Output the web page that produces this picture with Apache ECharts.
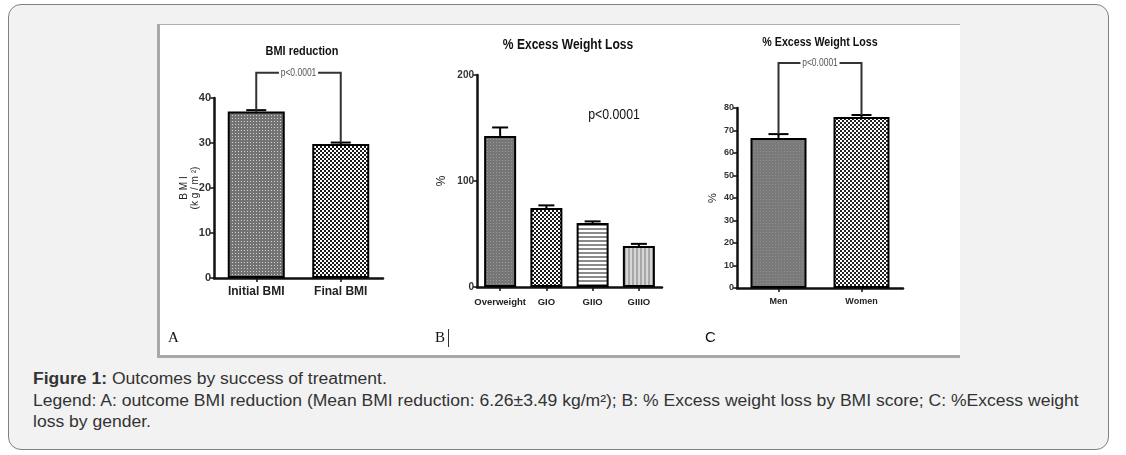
<!DOCTYPE html>
<html>
<head>
<meta charset="utf-8">
<script src="https://cdn.jsdelivr.net/npm/echarts@6/dist/echarts.min.js"></script>
<style>
  html, body { margin: 0; padding: 0; background: #ffffff; }
  body { width: 1126px; height: 455px; position: relative; overflow: hidden; }
  .frame { position: absolute; left: 8px; top: 4px; width: 1101px; height: 446px; box-sizing: border-box;
           border: 1px solid #808080; border-radius: 13px; background: #f2f2f2; }
  .white { position: absolute; left: 157px; top: 24px; width: 803px; height: 334px; box-sizing: border-box;
           background: #ffffff; border-left: 3px solid #a8a8a8; border-bottom: 3px solid #a8a8a8; border-top: 1px solid #b0b0b0; }
  .caption { position: absolute; left: 33px; top: 368px; font-family: "Liberation Sans", Arial, sans-serif;
             font-size: 16px; line-height: 21.5px; color: #333; white-space: nowrap;
             transform: scaleX(1.096); transform-origin: 0 0; }
  .caption b { font-weight: bold; }
  #chart { position: absolute; left: 0; top: 0; width: 1126px; height: 455px; }
</style>
</head>
<body>
<div class="frame"></div>
<div class="white"></div>
<div class="caption"><b>Figure 1:</b> Outcomes by success of treatment.<br>Legend: A: outcome BMI reduction (Mean BMI reduction: 6.26±3.49 kg/m²); B: % Excess weight loss by BMI score; C: %Excess weight<br>loss by gender.</div>
<div id="chart"></div>
<script>
// ---------- data ----------
const catsA = ['Initial BMI', 'Final BMI'];
const valsA = [37.0, 29.8];
const errsA = [0.3, 0.3];
const bracketA = [0, 37.3, 1, 30.1, 45.6];

const catsB = ['Overweight', 'GIO', 'GIIO', 'GIIIO'];
const valsB = [142.5, 74.5, 60.4, 38.7];
const errsB = [8, 2.5, 1.5, 2];

const catsC = ['Men', 'Women'];
const valsC = [66.7, 76.0];
const errsC = [1.7, 0.9];
const bracketC = [0, 68.4, 1, 76.9, 100];

const pText = 'p<0.0001';

// ---------- patterns ----------
function makePat(w, h, draw) {
  const c = document.createElement('canvas');
  c.width = w; c.height = h;
  const ctx = c.getContext('2d');
  draw(ctx);
  return { image: c, repeat: 'repeat' };
}
function checker(dark, light, s) {
  return makePat(2 * s, 2 * s, ctx => {
    ctx.fillStyle = dark; ctx.fillRect(0, 0, 2 * s, 2 * s);
    ctx.fillStyle = light; ctx.fillRect(0, 0, s, s); ctx.fillRect(s, s, s, s);
  });
}
function dots(bg, dot, s) {
  return makePat(s, s, ctx => {
    ctx.fillStyle = bg; ctx.fillRect(0, 0, s, s);
    ctx.fillStyle = dot; ctx.fillRect(1, 1, 1, 1);
  });
}
const patA1 = dots('#737373', '#d0d0d0', 3);
const patA2 = checker('#1a1a1a', '#ffffff', 2);
const patB1 = dots('#767676', '#9c9c9c', 3);
const patB2 = checker('#1a1a1a', '#ffffff', 2);
const patB3 = makePat(1, 4, ctx => { ctx.fillStyle = '#ffffff'; ctx.fillRect(0, 0, 1, 4); ctx.fillStyle = '#8a8a8a'; ctx.fillRect(0, 0, 1, 2); });
const patB4 = makePat(4, 1, ctx => { ctx.fillStyle = '#d6d6d6'; ctx.fillRect(0, 0, 4, 1); ctx.fillStyle = '#a8a8a8'; ctx.fillRect(0, 0, 2, 1); });
const patC1 = dots('#7a7a7a', '#8f8f8f', 3);
const patC2 = checker('#222222', '#ffffff', 2);

const SANS = '"Liberation Sans", Arial, sans-serif';

const chart = echarts.init(document.getElementById('chart'));

function errRender(cap) {
  return function (params, api) {
    const x = api.value(0), v = api.value(1), e = api.value(2);
    const b = api.coord([x, v]);
    const t = api.coord([x, v + e]);
    const st = { stroke: '#000', lineWidth: 2 };
    return { type: 'group', children: [
      { type: 'line', shape: { x1: b[0], y1: b[1], x2: t[0], y2: t[1] }, style: st },
      { type: 'line', shape: { x1: t[0] - cap, y1: t[1], x2: t[0] + cap, y2: t[1] }, style: st }
    ] };
  };
}
function bracketRender(fontSize, sx) {
  return function (params, api) {
    const p0 = api.coord([api.value(0), api.value(1)]);
    const p1 = api.coord([api.value(2), api.value(3)]);
    const yt = api.coord([api.value(0), api.value(4)])[1];
    return { type: 'group', children: [
      { type: 'polyline', shape: { points: [[p0[0], p0[1]], [p0[0], yt], [p1[0], yt], [p1[0], p1[1]]] },
        style: { stroke: '#333', lineWidth: 2, fill: null } },
      { type: 'text', x: (p0[0] + p1[0]) / 2, y: yt, scaleX: sx,
        style: { text: pText, align: 'center', verticalAlign: 'middle', fill: '#555',
                 font: fontSize + 'px ' + SANS, backgroundColor: '#fff', padding: [1, 2] } }
    ] };
  };
}

function yAxis(gi, max, interval, fs, name, nameGap, nameFs) {
  return {
    gridIndex: gi, type: 'value', min: 0, max: max, interval: interval,
    axisLine: { show: true, lineStyle: { color: '#111', width: 2.5 } },
    axisTick: { show: true, length: 4, lineStyle: { color: '#111', width: 1.5 } },
    axisLabel: { fontFamily: SANS, fontWeight: 'bold', fontSize: fs, color: '#333', margin: 3 },
    splitLine: { show: false },
    name: name, nameLocation: 'middle', nameRotate: 90, nameGap: nameGap, nameMoveOverlap: false,
    nameTextStyle: { fontFamily: SANS, fontSize: nameFs, color: '#222', lineHeight: nameFs + 1 }
  };
}
function xAxis(gi, cats, fs, margin) {
  return {
    gridIndex: gi, type: 'category', data: cats, boundaryGap: true,
    axisLine: { show: true, lineStyle: { color: '#111', width: 2.5 } },
    axisTick: { show: true, alignWithLabel: true, length: 4, lineStyle: { color: '#111', width: 1.5 } },
    axisLabel: { fontFamily: SANS, fontWeight: 'bold', fontSize: fs, color: '#222', margin: margin, interval: 0 }
  };
}

function titleText(x, y, text, size, sx, weight) {
  return { type: 'text', x: x, y: y, scaleX: sx,
    style: { text: text, align: 'center', verticalAlign: 'middle', font: (weight || 'bold') + ' ' + size + 'px ' + SANS, fill: '#111' } };
}

const option = {
  animation: false,
  grid: [
    { left: 214, top: 98, width: 169, height: 180 },
    { left: 477, top: 75, width: 185, height: 212 },
    { left: 737, top: 108, width: 166, height: 180 }
  ],
  xAxis: [ xAxis(0, catsA, 12, 8), xAxis(1, catsB, 9.5, 10), xAxis(2, catsC, 9, 9) ],
  yAxis: [
    yAxis(0, 40, 10, 11, 'B M I\n(k g / m ²)', 13, 10),
    yAxis(1, 200, 100, 10, '%', 29, 12),
    yAxis(2, 80, 10, 9, '%', 18, 11)
  ],
  graphic: [
    titleText(302, 51, 'BMI reduction', 13, 0.84),
    titleText(568, 45, '% Excess Weight Loss', 14, 0.86),
    titleText(820, 42, '% Excess Weight Loss', 13, 0.82),
    titleText(614, 115, pText, 14, 0.88, 'normal'),
    { type: 'text', x: 168, y: 338, style: { text: 'A', align: 'left', verticalAlign: 'middle', font: '15px "Liberation Serif", serif', fill: '#111' } },
    { type: 'text', x: 435, y: 338, style: { text: 'B', align: 'left', verticalAlign: 'middle', font: '15px "Liberation Serif", serif', fill: '#111' } },
    { type: 'line', shape: { x1: 448.5, y1: 329, x2: 448.5, y2: 347 }, style: { stroke: '#333', lineWidth: 1 } },
    { type: 'text', x: 705, y: 338, style: { text: 'C', align: 'left', verticalAlign: 'middle', font: '15px "Liberation Sans", sans-serif', fill: '#111' } }
  ],
  series: [
    { type: 'bar', xAxisIndex: 0, yAxisIndex: 0, barWidth: 57,
      data: valsA.map((v, i) => ({ value: v, itemStyle: { color: [patA1, patA2][i] } })),
      itemStyle: { borderColor: '#000', borderWidth: 2 } },
    { type: 'bar', xAxisIndex: 1, yAxisIndex: 1, barWidth: 32,
      data: valsB.map((v, i) => ({ value: v, itemStyle: { color: [patB1, patB2, patB3, patB4][i] } })),
      itemStyle: { borderColor: '#000', borderWidth: 2 } },
    { type: 'bar', xAxisIndex: 2, yAxisIndex: 2, barWidth: 56,
      data: valsC.map((v, i) => ({ value: v, itemStyle: { color: [patC1, patC2][i] } })),
      itemStyle: { borderColor: '#000', borderWidth: 2 } },
    { type: 'custom', xAxisIndex: 0, yAxisIndex: 0, clip: false, renderItem: errRender(10),
      data: valsA.map((v, i) => [i, v, errsA[i]]) },
    { type: 'custom', xAxisIndex: 1, yAxisIndex: 1, clip: false, renderItem: errRender(8),
      data: valsB.map((v, i) => [i, v, errsB[i]]) },
    { type: 'custom', xAxisIndex: 2, yAxisIndex: 2, clip: false, renderItem: errRender(10),
      data: valsC.map((v, i) => [i, v, errsC[i]]) },
    { type: 'custom', xAxisIndex: 0, yAxisIndex: 0, clip: false, renderItem: bracketRender(10, 0.85), data: [bracketA] },
    { type: 'custom', xAxisIndex: 2, yAxisIndex: 2, clip: false, renderItem: bracketRender(10, 0.85), data: [bracketC] }
  ]
};
chart.setOption(option);
</script>
</body>
</html>
